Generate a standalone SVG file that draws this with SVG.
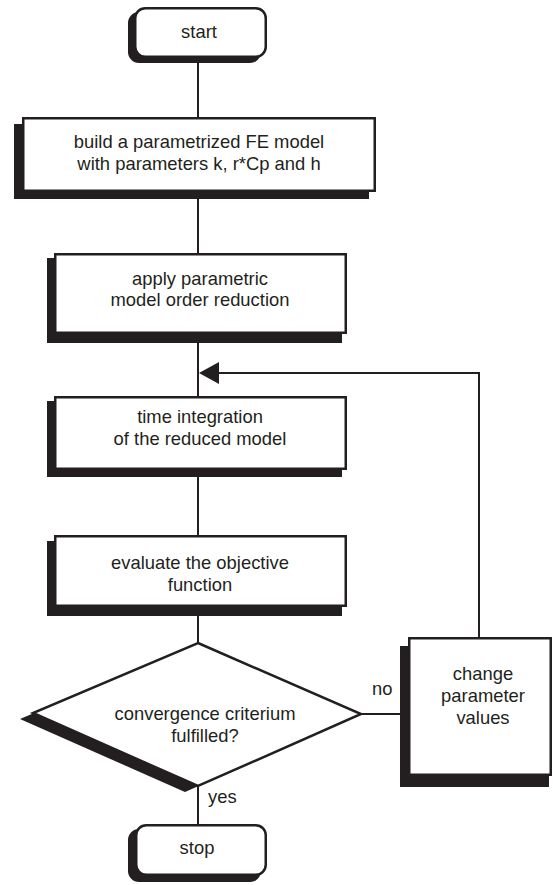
<svg xmlns="http://www.w3.org/2000/svg" width="553" height="885" viewBox="0 0 553 885">
<style>
.box{fill:#fff;stroke:#231f20;stroke-width:2.5}
.sh{fill:#231f20;stroke:none}
.ln{fill:none;stroke:#231f20;stroke-width:2}
text{font-family:"Liberation Sans",Arial,sans-serif;font-size:18.4px;fill:#231f20;text-anchor:middle}
.lbl{text-anchor:start}
</style>
<rect width="553" height="885" fill="#fff"/>
<g id="connectors">
<line class="ln" x1="198" y1="58" x2="198" y2="117"/>
<line class="ln" x1="198" y1="192" x2="198" y2="253"/>
<line class="ln" x1="198" y1="334" x2="198" y2="396"/>
<line class="ln" x1="198" y1="470" x2="198" y2="535"/>
<line class="ln" x1="198" y1="607" x2="198" y2="643"/>
<line class="ln" x1="198" y1="786" x2="198" y2="824"/>
<line class="ln" x1="361" y1="714" x2="408" y2="714"/>
<polyline class="ln" points="479,637 479,373 215,373"/>
<polygon points="199,373 219,362 219,384" fill="#231f20"/>
<text class="lbl" x="372" y="695">no</text>
<text class="lbl" x="208" y="803">yes</text>
</g>
<g id="start">
<rect class="sh" x="128" y="12" width="133" height="51" rx="11"/>
<rect class="box" x="135.25" y="8.25" width="130.5" height="48.5" rx="10"/>
<text x="199" y="38">start</text>
</g>
<g id="build">
<rect class="sh" x="14" y="124" width="355" height="75"/>
<rect class="box" x="23.25" y="118.25" width="351.5" height="72.5"/>
<text x="199" y="148">build a parametrized FE model</text>
<text x="199" y="170">with parameters k, r*Cp and h</text>
</g>
<g id="reduce">
<rect class="sh" x="47" y="258" width="295" height="85"/>
<rect class="box" x="55.25" y="254.25" width="290.5" height="78.5"/>
<text x="200" y="285">apply parametric</text>
<text x="200" y="306">model order reduction</text>
</g>
<g id="integrate">
<rect class="sh" x="47" y="401" width="295" height="76"/>
<rect class="box" x="55.25" y="397.25" width="290.5" height="71.5"/>
<text x="200" y="423">time integration</text>
<text x="200" y="445">of the reduced model</text>
</g>
<g id="evaluate">
<rect class="sh" x="47" y="541" width="295" height="75"/>
<rect class="box" x="55.25" y="536.25" width="290.5" height="69.5"/>
<text x="200" y="569">evaluate the objective</text>
<text x="200" y="591">function</text>
</g>
<g id="decision">
<polygon class="sh" points="185,649 348,720 185,792 20,719"/>
<polygon class="box" points="198,643 361,714 198,786 33,713"/>
<text x="205" y="720">convergence criterium</text>
<text x="205" y="742">fulfilled?</text>
</g>
<g id="change">
<rect class="sh" x="400" y="646" width="149" height="141"/>
<rect class="box" x="409.25" y="638.25" width="141.5" height="136.5"/>
<text x="483" y="680">change</text>
<text x="483" y="702">parameter</text>
<text x="483" y="724">values</text>
</g>
<g id="stop">
<rect class="sh" x="128" y="829" width="133" height="53" rx="11"/>
<rect class="box" x="136.25" y="825.25" width="129.5" height="49.5" rx="10"/>
<text x="197" y="854">stop</text>
</g>
</svg>
